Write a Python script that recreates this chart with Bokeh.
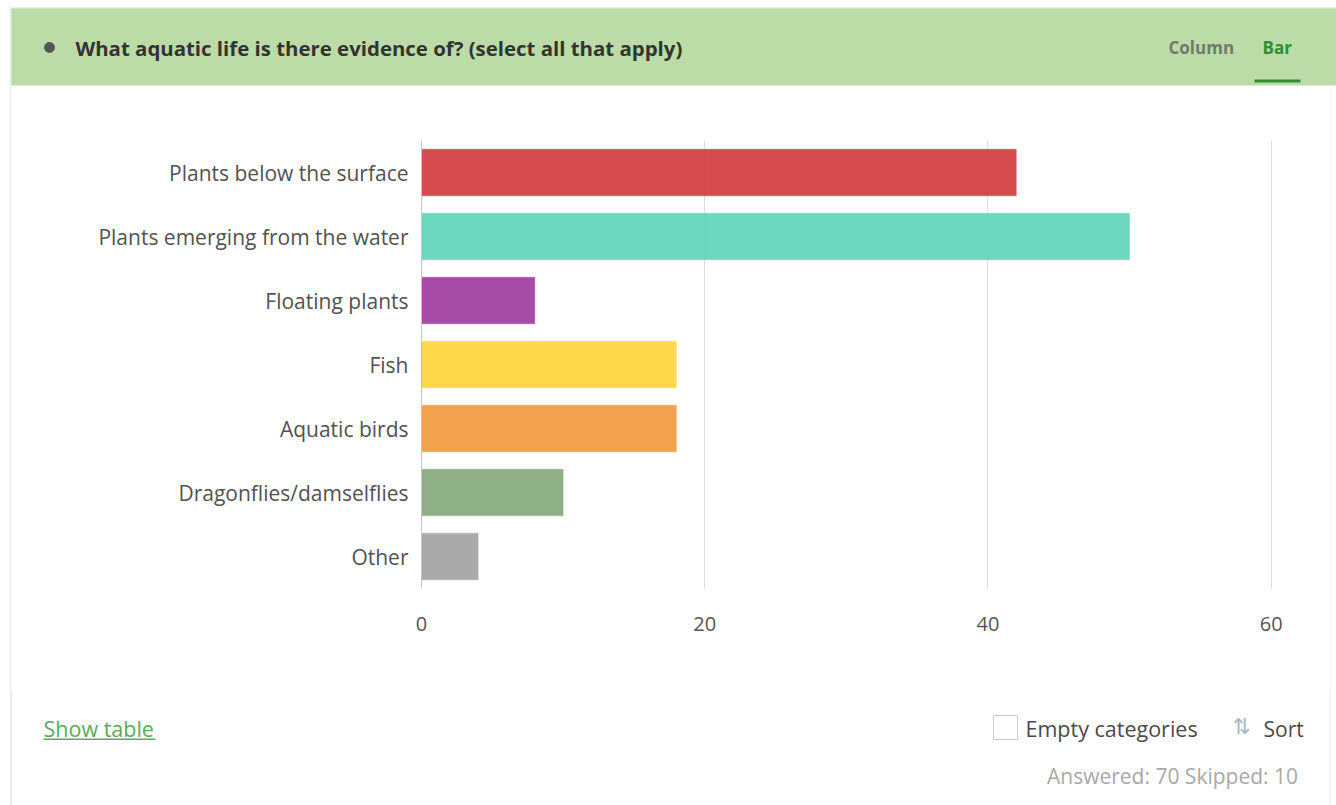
from bokeh.plotting import figure
from bokeh.layouts import column, row
from bokeh.models import ColumnDataSource, FactorRange, Range1d, FixedTicker
from bokeh.core.properties import value
from bokeh.embed import file_html
from bokeh.resources import INLINE

# ---- data ----
categories = ["Plants below the surface", "Plants emerging from the water", "Floating plants",
              "Fish", "Aquatic birds", "Dragonflies/damselflies", "Other"]
counts = [42, 50, 8, 18, 18, 10, 4]
bar_colors = ["#d1373a", "#5cd4b8", "#9c389c", "#ffd439", "#f3973b", "#83a779", "#a1a1a1"]
x_ticks = [0, 20, 40, 60]
title_text = "What aquatic life is there evidence of? (select all that apply)"
answered = 70
skipped = 10

W, H = 1336, 805
HEAD_H = 86          # header strip height
FOOT_Y = 690         # footer strip starts here
LB, RB = 11, 1329    # left / right panel border positions
FL, FT, FW, FH = 421, 140, 878, 448
FB = FT + FH
FONT = "Open Sans"
BORDER = "#d6d6d6"


def blank(w, h, x0, x1, y0, y1):
    f = figure(width=w, height=h, output_backend="svg", toolbar_location=None,
               x_range=Range1d(x0, x1), y_range=Range1d(y1, y0),
               x_axis_location=None, y_axis_location=None, min_border=0)
    f.outline_line_color = None
    f.grid.visible = False
    f.background_fill_color = "white"
    f.border_fill_color = "white"
    f.frame_align = False
    return f


def rect(f, x0, y0, x1, y1, color, line=None):
    f.quad(left=x0, right=x1, top=y0, bottom=y1, fill_color=color,
           line_color=line, line_width=1 if line else 0)


def txt(f, x, y, s, size, color, bold=False, align="left", font=FONT):
    f.text(x=[x], y=[y], text=[s], text_font=value(font), text_font_size=f"{size}px",
           text_color=color, text_font_style="bold" if bold else "normal",
           text_align=align, text_baseline="middle")


# ---------- header ----------
head = blank(W, HEAD_H, 0, W, 0, HEAD_H)
rect(head, LB - 1, 7, W, 8, BORDER)
rect(head, LB - 1, 7, LB, HEAD_H, BORDER)
rect(head, LB, 8, W, 85, "#bbdba7")
head.scatter(x=[49], y=[47], size=10, color="#555555")
txt(head, 75, 47, title_text, 20.4, "#333333", bold=True)
txt(head, 1168, 47, "Column", 17, "#6f7a6a", bold=True)
txt(head, 1262, 47, "Bar", 17, "#2f8f2f", bold=True)
rect(head, 1254, 79, 1300, 82, "#2f8f2f")

# ---------- main chart ----------
MH = FOOT_Y - HEAD_H
MW = RB - LB
p = figure(width=MW, height=MH, output_backend="svg", toolbar_location=None,
           y_range=FactorRange(factors=list(reversed(categories))),
           x_range=Range1d(0, 62),
           min_border_left=FL - LB, min_border_right=MW - (FL - LB) - FW,
           min_border_top=FT - HEAD_H, min_border_bottom=FOOT_Y - FB)
p.outline_line_color = None
p.background_fill_color = "white"
p.border_fill_color = "white"
p.frame_align = False

src = ColumnDataSource(dict(cat=categories, n=counts, c=bar_colors))
p.hbar(y="cat", right="n", left=0, height=0.73, fill_color="c", fill_alpha=0.9,
       line_color="c", line_alpha=0.35, line_width=1, source=src)

p.ygrid.grid_line_color = None
p.xgrid.grid_line_color = "#dcdcdc"
p.xaxis.ticker = FixedTicker(ticks=x_ticks)
p.xaxis.axis_line_color = None
p.xaxis.major_tick_line_color = None
p.xaxis.minor_tick_line_color = None
p.xaxis.major_tick_out = 0
p.xaxis.major_tick_in = 0
p.xaxis.major_label_standoff = 28
p.xaxis.major_label_text_font = FONT
p.xaxis.major_label_text_font_size = "20px"
p.xaxis.major_label_text_color = "#555555"

p.yaxis.axis_line_color = "#c4c4c4"
p.yaxis.major_tick_line_color = None
p.yaxis.minor_tick_line_color = None
p.yaxis.major_tick_out = 0
p.yaxis.major_tick_in = 0
p.yaxis.major_label_standoff = 13
p.yaxis.major_label_text_font = FONT
p.yaxis.major_label_text_font_size = "21px"
p.yaxis.major_label_text_color = "#525252"

left_strip = blank(LB, MH, 0, LB, 0, MH)
rect(left_strip, LB - 1, 0, LB, MH, BORDER)
right_strip = blank(W - RB, MH, 0, W - RB, 0, MH)
rect(right_strip, 0, 0, 1, MH, "#ececec")

# ---------- footer ----------
foot = blank(W, H - FOOT_Y, 0, W, FOOT_Y, H)
rect(foot, LB - 1, FOOT_Y, LB, H, BORDER)
rect(foot, RB, FOOT_Y, RB + 1, H, "#ececec")
txt(foot, 43, 728, "Show table", 21.5, "#5aaa5a")
rect(foot, 43, 738, 155, 739.5, "#5aaa5a")
rect(foot, 993, 715, 1017, 739, "white", line="#cccccc")
txt(foot, 1025, 728, "Empty categories", 21.5, "#4a4a4a")
txt(foot, 1232, 726, "⇅", 22, "#a9b9c4", font="DejaVu Sans")
txt(foot, 1263, 728, "Sort", 21, "#4a4a4a")
txt(foot, 1303, 775, f"Answered: {answered}  Skipped: {skipped}", 21, "#a8a8a8", align="right")

layout = column(head, row(left_strip, p, right_strip), foot, spacing=0)
open("out.html", "w").write(file_html(layout, INLINE))
